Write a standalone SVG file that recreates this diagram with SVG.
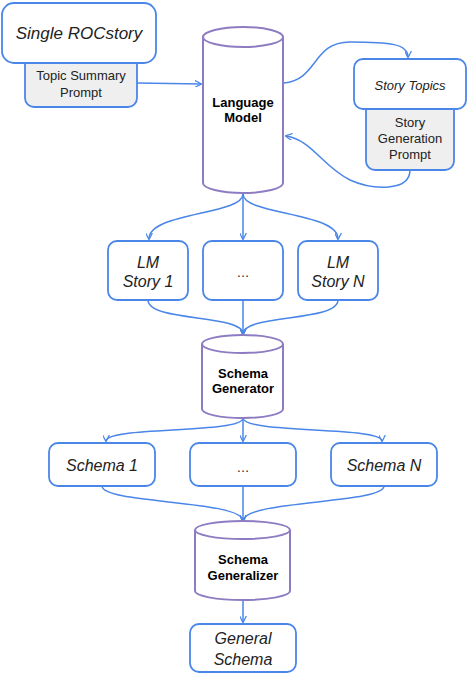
<svg xmlns="http://www.w3.org/2000/svg" width="468" height="674" viewBox="0 0 468 674">
<style>
.box{fill:#fff;stroke:#4a86e8;stroke-width:1.8}
.prompt{fill:#efefef;stroke:#4a86e8;stroke-width:1.8}
.cyl{fill:#fff;stroke:#8e7cc3;stroke-width:2}
.conn{fill:none;stroke:#4a86e8;stroke-width:1.5;marker-end:url(#ah)}
text{font-family:"Liberation Sans",Arial,sans-serif;fill:#222;text-anchor:middle;dominant-baseline:central}
.it{font-style:italic}
.b{font-weight:bold;fill:#000}
</style>
<defs>
<marker id="ah" viewBox="0 0 10 10" refX="9" refY="5" markerWidth="7" markerHeight="7" orient="auto" markerUnits="userSpaceOnUse">
<path d="M0,0 L10,5 L0,10" fill="none" stroke="#4a86e8" stroke-width="1.8"/>
</marker>
</defs>
<g id="connectors">
<path class="conn" d="M137,83 L201,84"/>
<path class="conn" d="M284,83 C318,80 312,42 350,42 C390,42 408,44 408,57"/>
<path class="conn" d="M410,170 C410,192 372,190 350,180 C322,166 312,140 286,136"/>
<path class="conn" d="M243,194 C243,215 149,212 149,239"/>
<path class="conn" d="M243,194 L243,239"/>
<path class="conn" d="M243,194 C243,215 338,212 338,239"/>
<path class="conn" d="M148,300 C148,322 243,314 243,334"/>
<path class="conn" d="M243,300 L243,334"/>
<path class="conn" d="M338,300 C338,322 243,314 243,334"/>
<path class="conn" d="M243,418 C243,434 106,426 106,441"/>
<path class="conn" d="M243,418 L243,441"/>
<path class="conn" d="M243,418 C243,434 382,426 382,441"/>
<path class="conn" d="M102,486 C102,504 243,500 243,521"/>
<path class="conn" d="M243,486 L243,521"/>
<path class="conn" d="M384,486 C384,504 243,500 243,521"/>
<path class="conn" d="M243,600 L243,622"/>
</g>
<g id="topic-summary-prompt">
<rect class="prompt" x="25" y="50" width="112" height="57" rx="9"/>
<text x="81" y="75" font-size="13">Topic Summary</text>
<text x="81" y="92" font-size="13">Prompt</text>
</g>
<g id="single-rocstory">
<rect class="box" x="2" y="3" width="154" height="60" rx="12"/>
<text class="it" x="79" y="33" font-size="17">Single ROCstory</text>
</g>
<g id="language-model">
<path class="cyl" d="M203,37 L203,183 A40,10 0 0 0 283,183 L283,37"/>
<ellipse class="cyl" cx="243" cy="37" rx="40" ry="10"/>
<text class="b" x="243" y="102" font-size="13">Language</text>
<text class="b" x="243" y="117" font-size="13">Model</text>
</g>
<g id="story-generation-prompt">
<rect class="prompt" x="366" y="95" width="88" height="75" rx="9"/>
<text x="410" y="122" font-size="13">Story</text>
<text x="410" y="138" font-size="13">Generation</text>
<text x="410" y="154" font-size="13">Prompt</text>
</g>
<g id="story-topics">
<rect class="box" x="354" y="59" width="112" height="50" rx="9"/>
<text class="it" x="410" y="85" font-size="13">Story Topics</text>
</g>
<g id="lm-story-1">
<rect class="box" x="108" y="241" width="80" height="59" rx="9"/>
<text class="it" x="148" y="262" font-size="16">LM</text>
<text class="it" x="148" y="281" font-size="16">Story 1</text>
</g>
<g id="lm-story-ellipsis">
<rect class="box" x="203" y="241" width="80" height="59" rx="9"/>
<text x="243" y="272" font-size="13">…</text>
</g>
<g id="lm-story-n">
<rect class="box" x="298" y="241" width="80" height="59" rx="9"/>
<text class="it" x="338" y="262" font-size="16">LM</text>
<text class="it" x="338" y="281" font-size="16">Story N</text>
</g>
<g id="schema-generator">
<path class="cyl" d="M202,344 L202,409 A40.5,9 0 0 0 283,409 L283,344"/>
<ellipse class="cyl" cx="242.5" cy="344" rx="40.5" ry="9"/>
<text class="b" x="243" y="373" font-size="13">Schema</text>
<text class="b" x="243" y="388" font-size="13">Generator</text>
</g>
<g id="schema-1">
<rect class="box" x="49" y="443" width="106" height="43" rx="9"/>
<text class="it" x="102" y="465" font-size="16">Schema 1</text>
</g>
<g id="schema-ellipsis">
<rect class="box" x="190" y="443" width="106" height="43" rx="9"/>
<text x="243" y="467" font-size="13">…</text>
</g>
<g id="schema-n">
<rect class="box" x="331" y="443" width="106" height="43" rx="9"/>
<text class="it" x="384" y="465" font-size="16">Schema N</text>
</g>
<g id="schema-generalizer">
<path class="cyl" d="M195,530 L195,591 A47.5,9 0 0 0 290,591 L290,530"/>
<ellipse class="cyl" cx="242.5" cy="530" rx="47.5" ry="9"/>
<text class="b" x="243" y="559" font-size="13">Schema</text>
<text class="b" x="243" y="575" font-size="13">Generalizer</text>
</g>
<g id="general-schema">
<rect class="box" x="190" y="624" width="106" height="48" rx="9"/>
<text class="it" x="243" y="638" font-size="16">General</text>
<text class="it" x="243" y="659" font-size="16">Schema</text>
</g>
</svg>
